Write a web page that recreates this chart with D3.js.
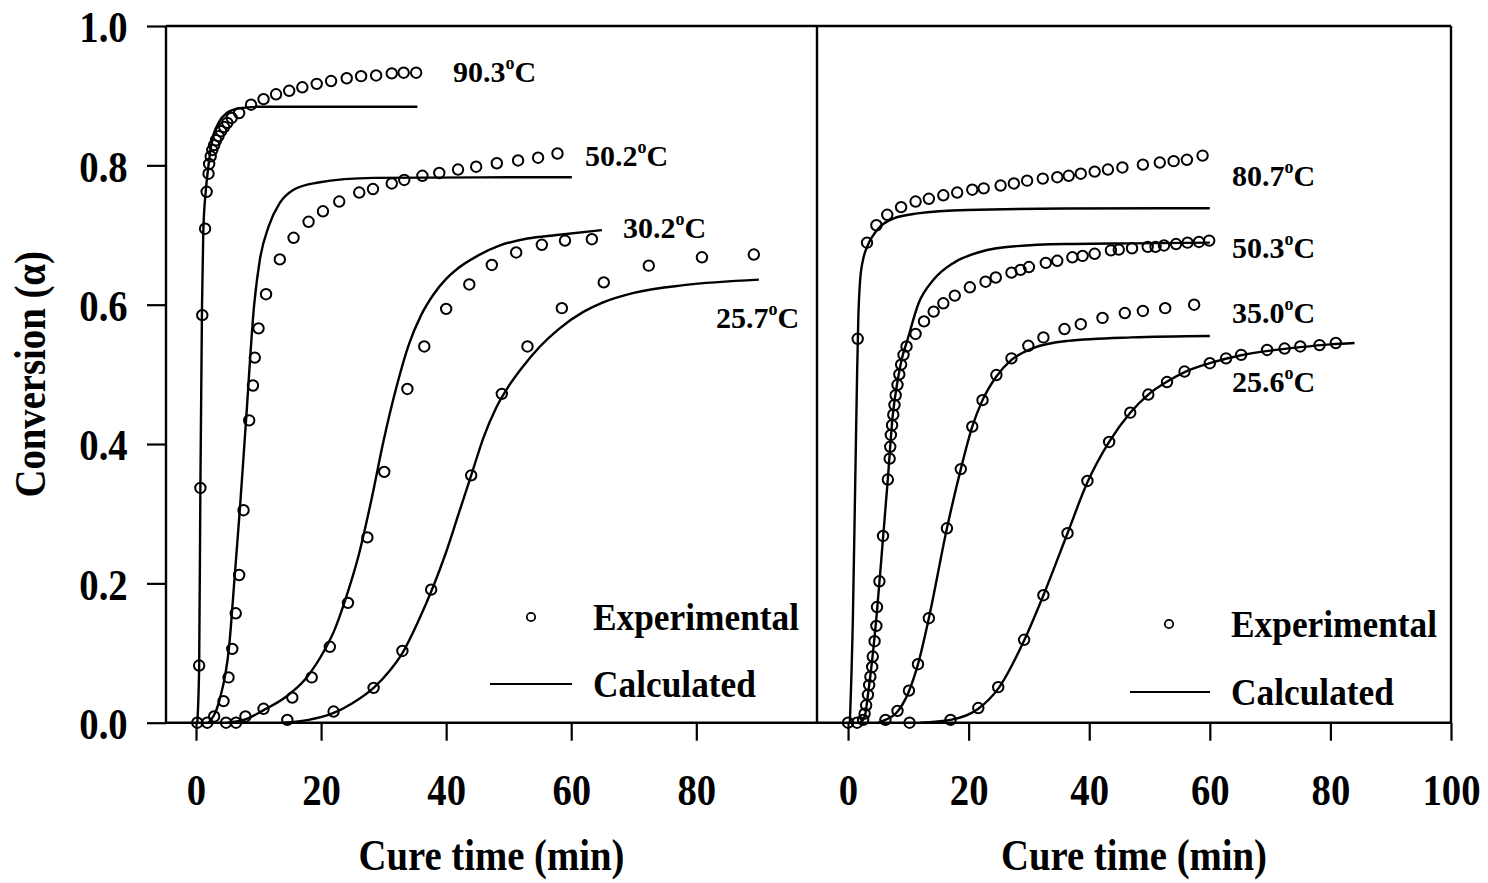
<!DOCTYPE html>
<html>
<head>
<meta charset="utf-8">
<script src="https://cdn.jsdelivr.net/npm/d3@7"></script>
<style>
body { margin: 0; background: #fff; }
svg { display: block; font-family: 'Liberation Serif', 'Times New Roman', serif; font-weight: bold; }
.narrow { transform-box: fill-box; transform-origin: center; transform: scaleX(0.88); }
.narrowL { transform-box: fill-box; transform-origin: left center; transform: scaleX(0.93); }
</style>
</head>
<body>
<script>
// left panel: experimental points and calculated curves, [time (min), conversion]
var exp903 = [[0.2, 0], [0.5, 0.082], [0.7, 0.337], [1.0, 0.585], [1.45, 0.709], [1.7, 0.762], [2.0, 0.788], [2.1, 0.802], [2.35, 0.813], [2.6, 0.822], [2.9, 0.829], [3.2, 0.836], [3.6, 0.842], [4.0, 0.849], [4.5, 0.855], [5.0, 0.861], [5.7, 0.868], [6.9, 0.875], [8.8, 0.887], [10.8, 0.895], [12.8, 0.902], [14.9, 0.907], [17.0, 0.912], [19.3, 0.917], [21.6, 0.921], [24.1, 0.925], [26.4, 0.928], [28.8, 0.929], [31.3, 0.932], [33.2, 0.933], [35.2, 0.933]]
var calc903 = [[0.2, 0], [0.5, 0.08], [0.7, 0.34], [0.96, 0.6], [1.17, 0.707], [1.55, 0.762], [1.97, 0.798], [2.5, 0.832], [3.6, 0.861], [4.9, 0.875], [7.0, 0.882], [10, 0.884], [35.4, 0.884]]

var exp502 = [[1.8, 0], [2.9, 0.009], [4.4, 0.031], [5.2, 0.065], [5.8, 0.106], [6.35, 0.157], [6.9, 0.212], [7.6, 0.305], [8.5, 0.434], [9.1, 0.484], [9.4, 0.524], [10.0, 0.566], [11.2, 0.615], [13.4, 0.665], [15.6, 0.696], [18.0, 0.719], [20.3, 0.734], [22.9, 0.748], [26.1, 0.761], [28.3, 0.766], [31.3, 0.774], [33.3, 0.779], [36.2, 0.785], [38.9, 0.789], [41.9, 0.794], [44.8, 0.798], [48.1, 0.803], [51.5, 0.807], [54.7, 0.811], [57.8, 0.817]]
var calc502 = [[2.0, 0], [3.7, 0.031], [5.3, 0.11], [6.2, 0.212], [7.0, 0.305], [8.0, 0.434], [9.3, 0.6], [10.2, 0.664], [11.6, 0.712], [13.4, 0.746], [15.6, 0.765], [19.3, 0.775], [28.4, 0.782], [60.1, 0.783]]

var exp302 = [[4.8, 0], [7.9, 0.009], [10.8, 0.02], [15.4, 0.036], [18.5, 0.065], [21.4, 0.109], [24.3, 0.172], [27.4, 0.266], [30.1, 0.36], [33.8, 0.479], [36.5, 0.54], [40.0, 0.594], [43.7, 0.629], [47.3, 0.657], [51.2, 0.675], [55.3, 0.686], [59.0, 0.692], [63.3, 0.694]]
var calc302 = [[5, 0], [8, 0.005], [10.8, 0.018], [14.5, 0.038], [17.7, 0.065], [20.6, 0.105], [22, 0.13], [24, 0.18], [26, 0.24], [28, 0.318], [30, 0.405], [32, 0.48], [34, 0.542], [36, 0.585], [38, 0.615], [40, 0.637], [42, 0.653], [45, 0.67], [48.6, 0.685], [53, 0.695], [57.7, 0.7], [64.9, 0.707]]

var exp257 = [[6.4, 0], [14.6, 0.004], [22.0, 0.016], [28.4, 0.05], [33.0, 0.103], [37.6, 0.191], [44.0, 0.355], [48.9, 0.472], [53.0, 0.54], [58.5, 0.595], [65.2, 0.632], [72.4, 0.656], [80.9, 0.668], [89.2, 0.672]]
var calc257 = [[14, 0], [18, 0.004], [22, 0.014], [25, 0.028], [28.4, 0.05], [31, 0.075], [33, 0.1], [35.5, 0.145], [38, 0.197], [40, 0.245], [42, 0.3], [44, 0.355], [46, 0.41], [48, 0.452], [50, 0.483], [52, 0.508], [55, 0.54], [58, 0.565], [62, 0.59], [65, 0.603], [70, 0.617], [78, 0.628], [90, 0.636]]

// right panel
var exp807 = [[0, 0], [1.6, 0.551], [3.15, 0.689], [4.7, 0.714], [6.5, 0.729], [8.8, 0.74], [11.2, 0.748], [13.4, 0.752], [15.8, 0.757], [18.1, 0.761], [20.6, 0.765], [22.5, 0.767], [25.3, 0.771], [27.5, 0.774], [29.7, 0.778], [32.3, 0.781], [34.7, 0.783], [36.6, 0.785], [38.6, 0.788], [40.9, 0.791], [43.1, 0.794], [45.5, 0.797], [48.9, 0.801], [51.7, 0.804], [54.0, 0.806], [56.2, 0.808], [58.8, 0.814]]
var calc807 = [[0.3, 0], [0.8, 0.15], [1.2, 0.35], [1.5, 0.5], [1.7, 0.58], [2.0, 0.635], [2.5, 0.665], [3.15, 0.683], [4.8, 0.707], [7.6, 0.724], [11.5, 0.731], [19.8, 0.736], [36, 0.738], [60, 0.7385]]

var exp503 = [[1.5, 0], [2.5, 0.004], [2.75, 0.013], [3.0, 0.025], [3.3, 0.04], [3.5, 0.054], [3.7, 0.066], [4.0, 0.08], [4.1, 0.095], [4.4, 0.117], [4.7, 0.139], [4.8, 0.166], [5.2, 0.203], [5.8, 0.268], [6.6, 0.349], [6.9, 0.379], [7.0, 0.396], [7.1, 0.413], [7.3, 0.427], [7.5, 0.442], [7.7, 0.456], [7.9, 0.47], [8.2, 0.485], [8.5, 0.5], [8.8, 0.514], [9.2, 0.528], [9.7, 0.54], [11.2, 0.558], [12.6, 0.576], [14.2, 0.59], [15.8, 0.602], [17.7, 0.613], [20.2, 0.625], [22.8, 0.633], [24.5, 0.639], [27.1, 0.646], [28.6, 0.65], [30.0, 0.654], [32.8, 0.66], [34.7, 0.663], [37.2, 0.668], [38.9, 0.67], [40.9, 0.673], [43.6, 0.678], [44.9, 0.679], [47.1, 0.681], [49.7, 0.683], [51.0, 0.683], [52.4, 0.685], [54.4, 0.687], [56.3, 0.689], [58.2, 0.69], [59.9, 0.692]]
var calc503 = [[2.0, 0], [2.8, 0.01], [3.3, 0.04], [4.0, 0.09], [4.8, 0.16], [5.8, 0.265], [6.6, 0.35], [7.4, 0.44], [8.3, 0.495], [9.0, 0.525], [9.8, 0.548], [11.7, 0.602], [14.2, 0.636], [17.5, 0.66], [22, 0.676], [28, 0.684], [36, 0.687], [47.5, 0.688], [60, 0.689]]

var exp350 = [[6.2, 0.004], [8.2, 0.017], [10.1, 0.046], [11.6, 0.084], [13.4, 0.15], [16.4, 0.279], [18.7, 0.364], [20.6, 0.425], [22.3, 0.463], [24.6, 0.499], [27.1, 0.523], [29.9, 0.541], [32.4, 0.553], [35.9, 0.565], [38.6, 0.572], [42.2, 0.581], [45.9, 0.588], [48.9, 0.591], [52.6, 0.595], [57.4, 0.6]]
var calc350 = [[5, 0], [6.2, 0.004], [8, 0.014], [10, 0.043], [11.6, 0.084], [13.4, 0.15], [16.4, 0.279], [18.7, 0.364], [20.6, 0.425], [22.3, 0.463], [24.6, 0.497], [27, 0.52], [30.8, 0.538], [36.4, 0.548], [47, 0.553], [60, 0.555]]

var exp256 = [[10.2, 0], [17.0, 0.004], [21.6, 0.021], [24.9, 0.051], [29.2, 0.119], [32.4, 0.183], [36.4, 0.272], [39.7, 0.347], [43.3, 0.403], [46.8, 0.445], [49.8, 0.471], [52.9, 0.489], [55.8, 0.504], [60, 0.516], [62.7, 0.523], [65.2, 0.528], [69.5, 0.535], [72.4, 0.537], [75.0, 0.54], [78.2, 0.542], [80.9, 0.545]]
var calc256 = [[12, 0], [17, 0.004], [21.6, 0.02], [25, 0.05], [29.2, 0.118], [32.4, 0.183], [36.4, 0.272], [39.7, 0.345], [43.3, 0.403], [46.8, 0.445], [49.8, 0.471], [53, 0.49], [56, 0.504], [60, 0.516], [65, 0.527], [70, 0.534], [75, 0.539], [80, 0.543], [84, 0.545]]

var yTicks = [0, 0.2, 0.4, 0.6, 0.8, 1.0]
var xTicksLeft = [0, 20, 40, 60, 80]
var xTicksRight = [0, 20, 40, 60, 80, 100]

var width = 1488, height = 883

var y = d3.scaleLinear().domain([0, 1]).range([722.7, 26])
var xL = d3.scaleLinear().domain([-4.8, 99.3]).range([166, 817])
var xR = d3.scaleLinear().domain([-5.15, 100]).range([817, 1451])

var svg = d3.select('body').append('svg')
.attr('width', width)
.attr('height', height)

function styleAxis (g) {
  g.select('.domain').remove()
  g.selectAll('.tick line').attr('stroke', '#000').attr('stroke-width', 2.2)
  g.selectAll('.tick text')
  .attr('class', 'narrow')
  .attr('fill', '#000')
  .style('font-size', '44px')
  .style('font-family', "'Liberation Serif', 'Times New Roman', serif")
}

svg.append('g')
.attr('transform', 'translate(' + xL.range()[0] + ',0)')
.call(d3.axisLeft(y).tickValues(yTicks).tickFormat(d3.format('.1f')).tickSize(19).tickPadding(16))
.call(styleAxis)
.selectAll('.tick text').attr('dy', '0.36em')

svg.append('g')
.attr('transform', 'translate(0,' + y(0) + ')')
.call(d3.axisBottom(xL).tickValues(xTicksLeft).tickSize(18).tickPadding(33))
.call(styleAxis)

svg.append('g')
.attr('transform', 'translate(0,' + y(0) + ')')
.call(d3.axisBottom(xR).tickValues(xTicksRight).tickSize(18).tickPadding(33))
.call(styleAxis)

// frame
var frame = svg.append('g').attr('stroke', '#000').attr('stroke-width', 2.4)
frame.append('line').attr('x1', xL.range()[0]).attr('x2', xR.range()[1]).attr('y1', y(1)).attr('y2', y(1))
frame.append('line').attr('x1', xL.range()[0]).attr('x2', xR.range()[1]).attr('y1', y(0)).attr('y2', y(0))
frame.append('line').attr('x1', xL.range()[0]).attr('x2', xL.range()[0]).attr('y1', y(1)).attr('y2', y(0))
frame.append('line').attr('x1', xL.range()[1]).attr('x2', xL.range()[1]).attr('y1', y(1)).attr('y2', y(0))
frame.append('line').attr('x1', xR.range()[1]).attr('x2', xR.range()[1]).attr('y1', y(1)).attr('y2', y(0))

function drawPanel (x, calcs, exps) {
  var line = d3.line()
  .x(function (d) { return x(d[0]) })
  .y(function (d) { return y(d[1]) })
  .curve(d3.curveMonotoneX)

  var g = svg.append('g')
  calcs.forEach(function (c) {
    g.append('path')
    .datum(c)
    .attr('d', line)
    .attr('fill', 'none')
    .attr('stroke', '#000')
    .attr('stroke-width', 2.4)
  })
  exps.forEach(function (e) {
    g.selectAll(null)
    .data(e)
    .enter().append('circle')
    .attr('cx', function (d) { return x(d[0]) })
    .attr('cy', function (d) { return y(d[1]) })
    .attr('r', 5.2)
    .attr('fill', 'none')
    .attr('stroke', '#000')
    .attr('stroke-width', 2)
  })
}

drawPanel(xL, [calc903, calc502, calc302, calc257], [exp903, exp502, exp302, exp257])
drawPanel(xR, [calc807, calc503, calc350, calc256], [exp807, exp503, exp350, exp256])

// temperature labels
var tempLabels = [
  {t: '90.3', x: 453, y: 82},
  {t: '50.2', x: 585, y: 166},
  {t: '30.2', x: 623, y: 238},
  {t: '25.7', x: 716, y: 328},
  {t: '80.7', x: 1232, y: 186},
  {t: '50.3', x: 1232, y: 258},
  {t: '35.0', x: 1232, y: 323},
  {t: '25.6', x: 1232, y: 392}
]
tempLabels.forEach(function (l) {
  var txt = svg.append('text')
  .attr('x', l.x)
  .attr('y', l.y)
  .style('font-size', '30px')
  txt.append('tspan').text(l.t)
  txt.append('tspan').attr('dy', -13).style('font-size', '18px').text('o')
  txt.append('tspan').attr('dy', 13).text('C')
})

// legends
function legend (cx, ey, x1, x2, ly, tx) {
  svg.append('circle')
  .attr('cx', cx).attr('cy', ey - 13)
  .attr('r', 4.2)
  .attr('fill', 'none')
  .attr('stroke', '#000')
  .attr('stroke-width', 1.8)
  svg.append('text')
  .attr('class', 'narrowL')
  .attr('x', tx).attr('y', ey)
  .style('font-size', '38px')
  .text('Experimental')
  svg.append('line')
  .attr('x1', x1).attr('x2', x2)
  .attr('y1', ly).attr('y2', ly)
  .attr('stroke', '#000')
  .attr('stroke-width', 2.2)
  svg.append('text')
  .attr('class', 'narrowL')
  .attr('x', tx).attr('y', ly + 13)
  .style('font-size', '38px')
  .text('Calculated')
}
legend(531, 630, 490, 572, 684, 593)
legend(1169, 637, 1130, 1210, 692, 1231)

// axis titles
svg.append('text')
.attr('class', 'narrow')
.attr('x', (xL.range()[0] + xL.range()[1]) / 2)
.attr('y', 870)
.attr('text-anchor', 'middle')
.style('font-size', '44px')
.text('Cure time (min)')

svg.append('text')
.attr('class', 'narrow')
.attr('x', (xR.range()[0] + xR.range()[1]) / 2)
.attr('y', 870)
.attr('text-anchor', 'middle')
.style('font-size', '44px')
.text('Cure time (min)')

svg.append('g')
.attr('transform', 'translate(45,' + (y(0) + y(1)) / 2 + ') rotate(-90)')
.append('text')
.attr('class', 'narrow')
.attr('text-anchor', 'middle')
.style('font-size', '44px')
.text('Conversion (α)')
</script>
</body>
</html>
